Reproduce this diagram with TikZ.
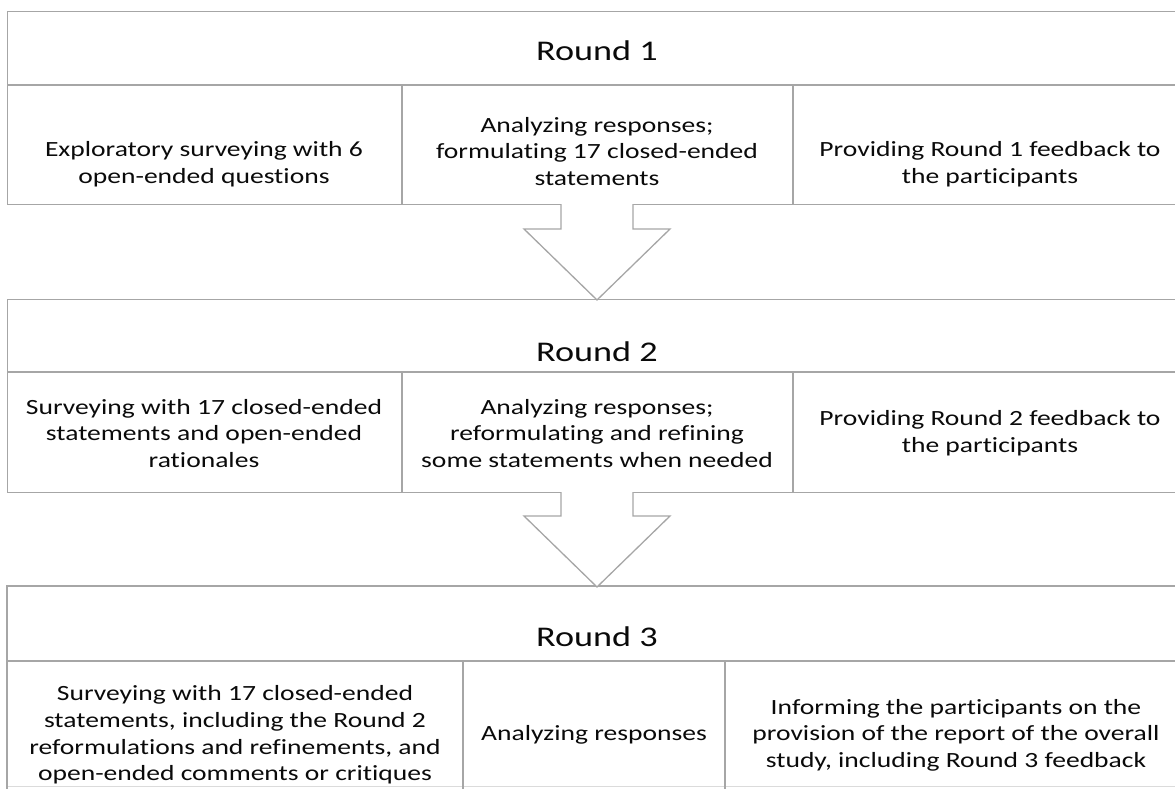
\documentclass[tikz,border=0pt]{standalone}
\usepackage{fontspec}
\setmainfont{Carlito}[FakeStretch=1.27, Ligatures=NoCommon]
\usetikzlibrary{calc}
\definecolor{linegray}{HTML}{A6A6A6}
\definecolor{textblack}{HTML}{0A0A0A}
\begin{document}
\begin{tikzpicture}[x=1pt,y=-1pt,
  roundbox/.style={draw=linegray, line width=1.3pt, rectangle, inner sep=0pt, anchor=north west, minimum width=1190pt},
  rule/.style={draw=linegray, line width=1.3pt},
  cell/.style={align=center, font=\fontsize{21.7}{26.6}\selectfont, text=textblack, inner sep=0pt},
  roundtitle/.style={font=\fontsize{28.5}{34}\selectfont, text=textblack, inner sep=0pt},
  blockarrow/.style={draw=linegray, line width=1.3pt, fill=white, line join=miter}]
\useasboundingbox (0,0) rectangle (1175,789);
\clip (0,0) rectangle (1175,789);

% ---------- Round 1 ----------
\node[roundbox, minimum height=193pt] (r1) at (7,11) {};
\draw[rule] (7,85) -- (1200,85);
\draw[rule] (402,85) -- (402,204);
\draw[rule] (793,85) -- (793,204);
\node[roundtitle] (t1) at (597,51) {Round 1};
\node[cell] (c11) at (204,164.5) {Exploratory surveying with 6\\open-ended questions};
\node[cell] (c12) at (597,151.5) {Analyzing responses;\\formulating 17 closed-ended\\statements};
\node[cell] (c13) at (990,164.5) {Providing Round 1 feedback to\\the participants};

% ---------- Round 2 ----------
\node[roundbox, minimum height=193pt] (r2) at (7,299) {};
\draw[rule] (7,372) -- (1200,372);
\draw[rule] (402,372) -- (402,492);
\draw[rule] (793,372) -- (793,492);
\node[roundtitle] (t2) at (597,352) {Round 2};
\node[cell] (c21) at (204,433.5) {Surveying with 17 closed-ended\\statements and open-ended\\rationales};
\node[cell] (c22) at (597,433.5) {Analyzing responses;\\reformulating and refining\\some statements when needed};
\node[cell] (c23) at (990,433.5) {Providing Round 2 feedback to\\the participants};

% ---------- Round 3 ----------
\node[roundbox, draw=linegray!40, minimum height=200pt] (r3) at (7,586) {};
\draw[rule] (1200,586) -- (7,586) -- (7,789);
\draw[rule] (7,661) -- (1200,661);
\draw[rule] (463,661) -- (463,800);
\draw[rule] (725,661) -- (725,800);
\node[roundtitle] (t3) at (597,637) {Round 3};
\node[cell] (c31) at (235,735) {Surveying with 17 closed-ended\\statements, including the Round 2\\reformulations and refinements, and\\open-ended comments or critiques};
\node[cell] (c32) at (594,735) {Analyzing responses};
\node[cell] (c33) at (956,735) {Informing the participants on the\\provision of the report of the overall\\study, including Round 3 feedback};

% ---------- block arrows ----------
\coordinate (a1s) at (597,204);
\coordinate (a1t) at (597,300);
\draw[blockarrow] ($(a1s)+(-36,0)$) -- ($(a1s)+(-36,25)$) -- ($(a1s)+(-73,25)$) -- (a1t)
  -- ($(a1s)+(73,25)$) -- ($(a1s)+(36,25)$) -- ($(a1s)+(36,0)$);
\coordinate (a2s) at (597,492);
\coordinate (a2t) at (597,587);
\draw[blockarrow] ($(a2s)+(-36,0)$) -- ($(a2s)+(-36,24)$) -- ($(a2s)+(-73,24)$) -- (a2t)
  -- ($(a2s)+(73,24)$) -- ($(a2s)+(36,24)$) -- ($(a2s)+(36,0)$);
\end{tikzpicture}
\end{document}
